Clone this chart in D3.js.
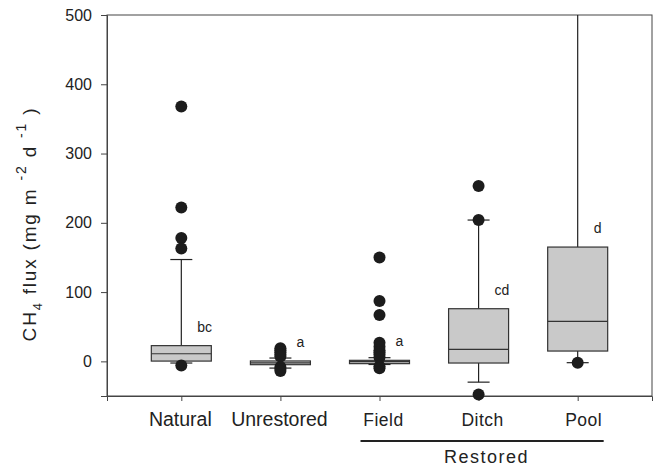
<!DOCTYPE html>
<html lang="en">
<head>
<meta charset="UTF-8">
<title>CH4 flux</title>
<script src="https://cdn.jsdelivr.net/npm/d3@7/dist/d3.min.js"></script>
<style>
    body { margin: 0; background: #fff; }
    svg { display: block; font-family: "Liberation Sans", Arial, sans-serif; }
    .y-axis .tick text { font-size: 16px; fill: #222; }
    .y-axis path, .y-axis line, .x-axis path, .x-axis line { stroke: #444; }
    .whisker line { stroke: #222; stroke-width: 1.2; }
</style>
</head>
<body>
<svg width="656" height="468"></svg>
<script>
    var categories = ['Natural', 'Unrestored', 'Field', 'Ditch', 'Pool'];
    var q1 = [0.4, -4.8, -3.3, -2.4, 14.9];
    var medians = [11, -2.2, -0.5, 17.3, 57.8];
    var q3 = [22.7, 0.6, 1.5, 76, 165];
    var whiskerLow = [-2.4, -9.7, -4.5, -30, -1.9];
    var whiskerHigh = [147, 4.8, 5.3, 204, 540];
    var outliers = [
        [368, 222, 178, 163, -6],
        [19, 16, 13, 10, 7, -8, -11, -14],
        [150, 87, 67, 27, 21, 16, 13, 10, 6, -7, -10],
        [253, 204, -48],
        [-2]
    ];
    var letters = ['bc', 'a', 'a', 'cd', 'd'];
    var yTicks = [0, 100, 200, 300, 400, 500];

    var svg = d3.select('svg'),
        margin = { top: 15, right: 4, bottom: 72, left: 107 },
        width = 656 - margin.left - margin.right,
        height = 468 - margin.top - margin.bottom;

    var x = d3.scalePoint().domain(categories).range([0, width]).padding(0.75);
    var y = d3.scaleLinear().domain([-50, 500]).range([height, 0]);

    var g = svg.append('g').attr('transform', 'translate(' + [margin.left, margin.top] + ')');

    g.append('clipPath').attr('id', 'plot-clip')
        .append('rect').attr('width', width).attr('height', height);

    // frame
    g.append('rect')
        .attr('width', width).attr('height', height)
        .attr('fill', 'none').attr('stroke', '#444').attr('stroke-width', 1);

    g.append('g').classed('y-axis', true)
        .call(d3.axisLeft(y).tickValues(yTicks).tickSize(6).tickPadding(9));

    g.append('g').classed('x-axis', true)
        .attr('transform', 'translate(0,' + height + ')')
        .call(d3.axisBottom(x).tickSize(5).tickFormat(''));

    var rows = categories.map(function(c, i) {
        return { cat: c, q1: q1[i], med: medians[i], q3: q3[i], lo: whiskerLow[i], hi: whiskerHigh[i], out: outliers[i], letter: letters[i] };
    });

    var boxW = 60, capW = 22;

    // whiskers, clipped to the plot (Pool runs off the top)
    var wh = g.append('g').attr('clip-path', 'url(#plot-clip)')
        .selectAll('.whisker').data(rows).enter().append('g').classed('whisker', true);
    wh.append('line')
        .attr('x1', function(d) { return x(d.cat); }).attr('x2', function(d) { return x(d.cat); })
        .attr('y1', function(d) { return y(d.q3); }).attr('y2', function(d) { return y(d.hi); });
    wh.append('line')
        .attr('x1', function(d) { return x(d.cat); }).attr('x2', function(d) { return x(d.cat); })
        .attr('y1', function(d) { return y(d.q1); }).attr('y2', function(d) { return y(d.lo); });
    wh.append('line')
        .attr('x1', function(d) { return x(d.cat) - capW / 2; }).attr('x2', function(d) { return x(d.cat) + capW / 2; })
        .attr('y1', function(d) { return y(d.hi); }).attr('y2', function(d) { return y(d.hi); });
    wh.append('line')
        .attr('x1', function(d) { return x(d.cat) - capW / 2; }).attr('x2', function(d) { return x(d.cat) + capW / 2; })
        .attr('y1', function(d) { return y(d.lo); }).attr('y2', function(d) { return y(d.lo); });

    var grp = g.selectAll('.box').data(rows).enter().append('g').classed('box', true)
        .attr('transform', function(d) { return 'translate(' + x(d.cat) + ',0)'; });

    grp.append('rect')
        .attr('x', -boxW / 2).attr('width', boxW)
        .attr('y', function(d) { return y(d.q3); })
        .attr('height', function(d) { return y(d.q1) - y(d.q3); })
        .attr('fill', '#c9c9c9').attr('stroke', '#333').attr('stroke-width', 1.2);

    grp.append('line')
        .attr('x1', -boxW / 2).attr('x2', boxW / 2)
        .attr('y1', function(d) { return y(d.med); }).attr('y2', function(d) { return y(d.med); })
        .attr('stroke', '#333').attr('stroke-width', 1.2);

    grp.selectAll('circle').data(function(d) { return d.out; }).enter().append('circle')
        .attr('cy', function(v) { return y(v); })
        .attr('r', 6).attr('fill', '#1c1c1c');

    // letters
    g.selectAll('.letter').data(rows).enter().append('text').classed('letter', true)
        .attr('x', function(d) { return x(d.cat) + 16; })
        .attr('y', function(d) { return y(d.q3) - 14; })
        .attr('font-size', 14).attr('fill', '#222')
        .text(function(d) { return d.letter; });

    // category labels
    var labelSize = { Natural: 19.5, Unrestored: 19.5, Field: 17.5, Ditch: 17.5, Pool: 17.5 };
    var labelShift = { Natural: -1, Unrestored: -1, Field: 4, Ditch: 4, Pool: 6 };
    g.selectAll('.cat-label').data(categories).enter().append('text').classed('cat-label', true)
        .attr('x', function(d) { return x(d) + labelShift[d]; })
        .attr('y', height + 30)
        .attr('text-anchor', 'middle')
        .attr('font-size', function(d) { return labelSize[d]; })
        .attr('letter-spacing', function(d) { return labelSize[d] < 18 ? 0.5 : 0; })
        .attr('fill', '#222')
        .text(function(d) { return d; });

    // restored group bracket
    g.append('line')
        .attr('x1', x('Field') - 19).attr('x2', x('Pool') + 26)
        .attr('y1', height + 45).attr('y2', height + 45)
        .attr('stroke', '#222').attr('stroke-width', 2);
    g.append('text')
        .attr('x', x('Ditch') + 8).attr('y', height + 67)
        .attr('text-anchor', 'middle').attr('font-size', 18)
        .attr('letter-spacing', 1.5).attr('fill', '#222')
        .text('Restored');

    // y title
    var title = svg.append('text')
        .attr('transform', 'translate(36,224) rotate(-90)')
        .attr('text-anchor', 'middle').attr('font-size', 19).attr('fill', '#222')
        .attr('letter-spacing', 1.8);
    title.append('tspan').text('CH');
    title.append('tspan').attr('font-size', 13).attr('dy', 6).text('4');
    title.append('tspan').attr('dy', -6).text(' flux (mg m ');
    title.append('tspan').attr('font-size', 14).attr('dy', -10).text('-2');
    title.append('tspan').attr('dy', 10).text('  d ');
    title.append('tspan').attr('font-size', 14).attr('dy', -10).text('-1');
    title.append('tspan').attr('dy', 10).text('  )');
</script>
</body>
</html>
